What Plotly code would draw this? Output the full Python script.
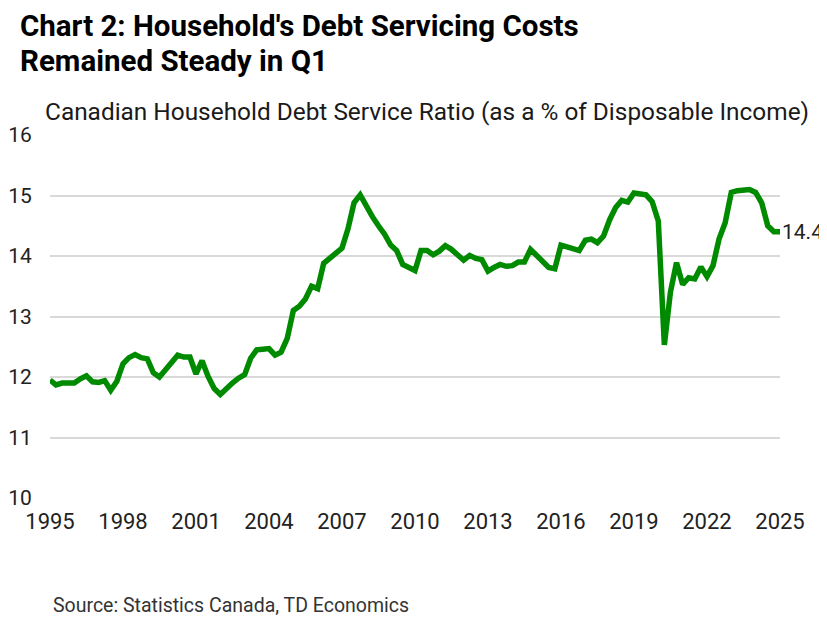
import plotly.graph_objects as go
import pandas as pd

# Quarterly data 1995Q1 .. 2025Q1
quarters = pd.period_range("1995Q1", "2025Q1", freq="Q")
dates = [p.start_time.strftime("%Y-%m-%d") for p in quarters]

dsr = [
    11.95, 11.87, 11.90, 11.89,   # 1995
    11.90, 11.97, 12.02, 11.92,   # 1996
    11.91, 11.94, 11.78, 11.93,   # 1997
    12.22, 12.32, 12.37, 12.32,   # 1998
    12.30, 12.07, 12.00, 12.12,   # 1999
    12.24, 12.36, 12.33, 12.33,   # 2000
    12.05, 12.27, 12.01, 11.81,   # 2001
    11.71, 11.81, 11.90, 11.98,   # 2002
    12.04, 12.31, 12.45, 12.46,   # 2003
    12.47, 12.36, 12.41, 12.64,   # 2004
    13.10, 13.17, 13.29, 13.50,   # 2005
    13.46, 13.88, 13.96, 14.04,   # 2006
    14.13, 14.45, 14.88, 15.01,   # 2007
    14.82, 14.65, 14.50, 14.36,   # 2008
    14.18, 14.09, 13.86, 13.80,   # 2009
    13.76, 14.09, 14.09, 14.02,   # 2010
    14.08, 14.17, 14.11, 14.02,   # 2011
    13.93, 14.01, 13.96, 13.94,   # 2012
    13.75, 13.81, 13.86, 13.83,   # 2013
    13.84, 13.90, 13.90, 14.11,   # 2014
    14.01, 13.91, 13.81, 13.79,   # 2015
    14.18, 14.15, 14.11, 14.09,   # 2016
    14.26, 14.28, 14.22, 14.33,   # 2017
    14.60, 14.80, 14.92, 14.89,   # 2018
    15.04, 15.02, 15.01, 14.90,   # 2019
    14.58, 12.53, 13.40, 13.89,   # 2020
    13.53, 13.64, 13.62, 13.82,   # 2021
    13.66, 13.84, 14.28, 14.55,   # 2022
    15.05, 15.08, 15.09, 15.10,   # 2023
    15.05, 14.88, 14.50, 14.40,   # 2024
    14.40,                        # 2025
]

tick_years = [1995, 1998, 2001, 2004, 2007, 2010, 2013, 2016, 2019, 2022, 2025]
y_ticks = [10, 11, 12, 13, 14, 15, 16]

title_line1 = "Chart 2: Household's Debt Servicing Costs"
title_line2 = "Remained Steady in Q1"
subtitle_text = "Canadian Household Debt Service Ratio (as a % of Disposable Income)"
source_text = "Source: Statistics Canada, TD Economics"

FONT = "Roboto"
GREEN = "#008a00"

fig = go.Figure()
fig.add_trace(go.Scatter(
    x=dates, y=dsr, mode="lines",
    line=dict(color=GREEN, width=5.5),
    hoverinfo="skip", showlegend=False,
))

fig.add_annotation(
    x=dates[-1], y=dsr[-1], xref="x", yref="y",
    text=f"{dsr[-1]:.1f}", showarrow=False,
    xanchor="left", yanchor="middle", xshift=0,
    font=dict(family=FONT, size=21, color="#222222"),
)

# figure is placed inside the page body (8px offset)
W, H = 819, 610
ML, MR, MT, MB = 42, 47, 127, 120
pw, ph = W - ML - MR, H - MT - MB

def px_x(px):
    return (px - ML) / pw

def px_y(py):
    return (H - MB - py) / ph

def add_text(txt, x, y, size, color, bold=False):
    fig.add_annotation(
        x=px_x(x), y=px_y(y), xref="paper", yref="paper",
        text=f"<b>{txt}</b>" if bold else txt, showarrow=False,
        align="left", xanchor="left", yanchor="middle",
        font=dict(family=FONT, size=size, color=color),
    )

add_text(title_line1, 10, 18, 29.5, "#000000", bold=True)
add_text(title_line2, 10, 53, 29.5, "#000000", bold=True)
add_text(subtitle_text, 35, 103, 24.4, "#1a1a1a")
add_text(source_text, 43, 597, 19.5, "#333333")

fig.update_layout(
    width=W, height=H,
    margin=dict(l=ML, r=MR, t=MT, b=MB, pad=0, autoexpand=False),
    paper_bgcolor="white", plot_bgcolor="white",
    font=dict(family=FONT, color="#222222"),
    showlegend=False,
)
fig.update_xaxes(
    type="date", automargin=False,
    range=["1995-01-01", "2025-01-01"],
    tickvals=[f"{y}-01-01" for y in tick_years],
    ticktext=[str(y) for y in tick_years],
    showgrid=False, zeroline=False, showline=False,
    ticks="outside", ticklen=4, tickcolor="rgba(0,0,0,0)",
    tickfont=dict(family=FONT, size=22, color="#222222"),
)
fig.update_yaxes(
    range=[10, 16], automargin=False,
    tickvals=y_ticks,
    showgrid=True, gridcolor="#d9d9d9", gridwidth=1.5,
    zeroline=False, showline=False,
    ticks="outside", ticklen=13, tickcolor="rgba(0,0,0,0)",
    tickfont=dict(family=FONT, size=21, color="#222222"),
)

fig.write_html("out.html")
